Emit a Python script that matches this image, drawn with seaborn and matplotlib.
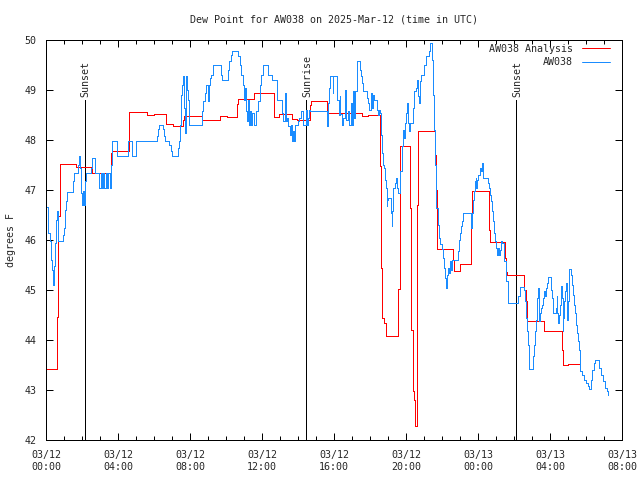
import numpy as np
import pandas as pd
import matplotlib
matplotlib.use("Agg")
import matplotlib.pyplot as plt
import seaborn as sns

# ---------------- data (hours after 2025-03-12 00:00 UTC) ----------------
analysis_hours = [0.0, 0.63, 0.68, 0.75, 1.69, 2.57, 3.59, 3.67, 4.63, 5.63, 6.0, 6.65, 7.04,
                  7.61, 7.67, 8.68, 9.67, 10.07, 10.63, 10.67, 11.57, 12.67, 12.94, 13.68,
                  13.96, 14.67, 14.71, 15.59, 17.54, 17.91, 18.57, 18.63, 18.68, 18.78, 18.87,
                  19.57, 19.67, 20.22, 20.29, 20.37, 20.46, 20.52, 20.59, 20.63, 20.68, 21.63,
                  21.67, 21.71, 21.74, 22.63, 22.68, 23.0, 23.61, 23.68, 24.61, 24.68, 25.52,
                  25.57, 25.63, 26.57, 26.64, 26.71, 27.67, 28.65, 28.71, 29.0, 29.63]
analysis_vals = [43.43, 44.46, 46.48, 47.53, 47.47, 47.35, 47.75, 47.78, 48.56, 48.5, 48.52, 48.33, 48.29,
                 48.4, 48.49, 48.41, 48.49, 48.47, 48.73, 48.83, 48.95, 48.47, 48.53, 48.43,
                 48.41, 48.7, 48.78, 48.55, 48.48, 48.51, 47.48, 45.45, 44.45, 44.35, 44.08,
                 45.03, 47.88, 46.65, 44.2, 42.98, 42.8, 42.29, 43.76, 46.71, 48.19, 47.71,
                 47.01, 46.63, 45.83, 45.61, 45.38, 45.53, 46.25, 46.99, 46.21, 45.97, 45.65,
                 45.36, 45.31, 45.0, 44.78, 44.39, 44.19, 43.8, 43.51, 43.53, 43.53]

obs_hours = [0.04, 0.13, 0.22, 0.28, 0.32, 0.37, 0.41, 0.44, 0.5, 0.56, 0.61, 0.65, 0.67, 0.92, 0.98,
             1.04, 1.08, 1.13, 1.18, 1.52, 1.58, 1.75, 1.81, 1.83, 1.89, 1.94, 2.0, 2.06, 2.11,
             2.17, 2.22, 2.48, 2.54, 2.72, 2.97, 3.03, 3.11, 3.17, 3.22, 3.31, 3.39, 3.47, 3.56,
             3.59, 3.64, 3.96, 4.57, 4.76, 5.0, 6.18, 6.24, 6.29, 6.5, 6.56, 6.61, 6.85, 6.93,
             7.0, 7.32, 7.39, 7.44, 7.5, 7.56, 7.61, 7.67, 7.72, 7.78, 7.83, 7.89, 7.94, 8.65,
             8.72, 8.81, 8.89, 8.98, 9.04, 9.11, 9.19, 9.29, 9.72, 9.79, 10.09, 10.17, 10.25,
             10.33, 10.67, 10.78, 10.86, 10.94, 11.0, 11.06, 11.11, 11.17, 11.22, 11.28, 11.33,
             11.39, 11.47, 11.53, 11.67, 11.79, 11.89, 11.97, 12.07, 12.35, 12.54, 12.82, 12.86,
             13.09, 13.18, 13.28, 13.32, 13.39, 13.47, 13.56, 13.61, 13.67, 13.72, 13.78, 13.83,
             14.02, 14.08, 14.17, 14.29, 14.43, 14.48, 14.56, 14.61, 14.67, 15.59, 15.67, 15.72,
             15.78, 15.92, 15.96, 16.14, 16.19, 16.25, 16.31, 16.36, 16.43, 16.5, 16.61, 16.67,
             16.75, 16.83, 16.92, 17.0, 17.06, 17.11, 17.17, 17.26, 17.44, 17.5, 17.56, 17.63,
             17.82, 17.89, 17.96, 18.03, 18.09, 18.17, 18.24, 18.37, 18.44, 18.52, 18.57, 18.61,
             18.67, 18.72, 18.79, 18.85, 18.89, 18.93, 18.96, 19.02, 19.17, 19.21, 19.24, 19.29,
             19.39, 19.44, 19.5, 19.57, 19.67, 19.76, 19.79, 19.83, 19.89, 19.94, 20.0, 20.06,
             20.11, 20.17, 20.22, 20.39, 20.44, 20.56, 20.61, 20.67, 20.72, 20.76, 20.79, 20.83,
             21.0, 21.11, 21.28, 21.36, 21.47, 21.52, 21.56, 21.59, 21.64, 21.69, 21.78, 21.83,
             21.89, 21.98, 22.07, 22.13, 22.19, 22.24, 22.29, 22.35, 22.41, 22.46, 22.52, 22.57,
             22.91, 22.96, 23.02, 23.07, 23.13, 23.18, 23.59, 23.64, 23.68, 23.72, 23.78, 23.83,
             23.87, 23.91, 23.94, 24.02, 24.11, 24.17, 24.21, 24.28, 24.57, 24.63, 24.67, 24.72,
             24.78, 24.83, 24.89, 24.94, 25.0, 25.06, 25.11, 25.17, 25.22, 25.28, 25.36, 25.42,
             25.47, 25.53, 25.58, 25.64, 25.69, 26.24, 26.31, 26.36, 26.53, 26.61, 26.67, 26.72,
             26.78, 26.82, 26.85, 27.06, 27.11, 27.17, 27.22, 27.26, 27.29, 27.33, 27.37, 27.41,
             27.46, 27.5, 27.56, 27.61, 27.67, 27.72, 27.78, 27.83, 27.89, 28.07, 28.11, 28.17,
             28.33, 28.37, 28.41, 28.44, 28.5, 28.56, 28.59, 28.63, 28.67, 28.71, 28.74, 28.78,
             28.83, 28.89, 28.93, 28.96, 29.0, 29.03, 29.06, 29.18, 29.22, 29.28, 29.33, 29.39,
             29.44, 29.5, 29.56, 29.61, 29.67, 29.78, 29.89, 30.0, 30.11, 30.18, 30.25, 30.33,
             30.42, 30.5, 30.74, 30.83, 30.94, 31.06, 31.17, 31.24]
obs_vals = [46.66, 46.15, 45.98, 45.61, 45.41, 45.21, 45.11, 45.48, 45.95, 46.41, 46.58, 46.45, 45.98, 46.1, 46.25,
            46.5, 46.6, 46.78, 46.97, 47.18, 47.35, 47.5, 47.6, 47.68, 47.45, 46.95, 46.71, 46.98, 46.71,
            47.18, 47.35, 47.45, 47.65, 47.35, 47.05, 47.35, 47.05, 47.35, 47.05, 47.35, 47.05, 47.35, 47.05,
            47.5, 47.99, 47.68, 47.99, 47.68, 47.99, 48.09, 48.23, 48.31, 48.23, 48.09, 47.99, 47.91, 47.78,
            47.68, 47.85, 47.99, 48.31, 48.91, 49.11, 49.28, 48.65, 48.15, 49.28, 49.01, 48.81, 48.31, 48.58,
            48.78, 48.95, 49.11, 48.78, 49.11, 49.25, 49.31, 49.51, 49.31, 49.21, 49.41, 49.58, 49.71,
            49.79, 49.68, 49.51, 49.31, 49.11, 48.81, 49.05, 48.58, 48.38, 48.81, 48.31, 48.58,
            48.31, 48.55, 48.31, 48.58, 48.78, 49.11, 49.31, 49.51, 49.31, 49.21, 49.01, 48.81,
            48.55, 48.38, 48.95, 48.38, 48.45, 48.28, 48.11, 48.31, 47.98, 48.18, 47.98, 48.31,
            48.38, 48.45, 48.58, 48.31, 48.61, 48.31, 48.45, 48.61, 48.59, 48.29, 48.75, 49.05,
            49.28, 48.95, 49.28, 49.05, 48.81, 48.51, 48.88, 48.52, 48.31, 48.45, 49.0, 48.41,
            48.58, 48.31, 48.75, 48.31, 48.98, 48.45, 48.98, 49.58, 49.41, 49.28, 49.15, 48.98,
            48.85, 48.75, 48.61, 48.95, 48.65, 48.91, 48.81, 48.61, 48.51, 48.61, 48.55, 48.11,
            47.75, 47.51, 47.45, 47.21, 47.05, 46.68, 46.81, 46.85, 46.55, 46.28, 46.58, 47.05,
            47.15, 47.25, 47.05, 46.95, 47.38, 47.61, 47.88, 48.21, 48.05, 48.35, 48.55, 48.75,
            48.35, 48.18, 48.35, 48.65, 48.98, 49.05, 49.21, 48.88, 48.75, 48.98, 49.18, 49.31,
            49.51, 49.68, 49.78, 49.95, 49.6, 48.9, 48.2, 47.5, 46.98, 46.65, 46.31, 46.05,
            45.93, 45.83, 45.65, 45.45, 45.25, 45.05, 45.31, 45.45, 45.35, 45.58, 45.41, 45.61,
            45.78, 46.0, 46.15, 46.28, 46.38, 46.55, 46.25, 46.38, 46.55, 46.81, 46.98, 47.18,
            47.25, 47.05, 47.21, 47.31, 47.45, 47.38, 47.55, 47.25, 47.15, 47.05, 46.91, 46.78,
            46.58, 46.38, 46.15, 45.98, 45.85, 45.7, 45.85, 45.7, 45.81, 45.98, 45.95, 45.7,
            45.58, 45.41, 45.18, 44.91, 44.75, 44.88, 45.01, 45.07, 45.01, 44.78, 44.45, 44.18,
            43.91, 43.68, 43.43, 43.68, 43.91, 44.18, 44.41, 44.61, 44.85, 45.05, 44.71, 44.38,
            44.55, 44.65, 44.71, 44.85, 44.98, 44.88, 45.05, 45.15, 45.26, 45.01, 44.85, 44.55,
            44.65, 44.88, 44.55, 44.35, 44.51, 44.71, 44.91, 45.08, 44.85, 44.18, 44.45, 44.78,
            44.98, 45.15, 44.68, 44.41, 44.78, 45.11, 45.43, 45.3, 45.11, 44.91, 44.71, 44.55,
            44.31, 44.15, 43.98, 43.81, 43.38, 43.3, 43.21, 43.15, 43.08, 43.03, 43.21, 43.41,
            43.55, 43.61, 43.45, 43.3, 43.18, 43.05, 42.98, 42.91]

event_hours = [2.18, 14.47, 26.13]
event_labels = ["Sunset", "Sunrise", "Sunset"]

tick_hours = [0, 4, 8, 12, 16, 20, 24, 28, 32]
tick_labels = ["03/12\n00:00", "03/12\n04:00", "03/12\n08:00", "03/12\n12:00", "03/12\n16:00",
               "03/12\n20:00", "03/13\n00:00", "03/13\n04:00", "03/13\n08:00"]
y_ticks = [42, 43, 44, 45, 46, 47, 48, 49, 50]

title = "Dew Point for AW038 on 2025-Mar-12 (time in UTC)"
ylabel = "degrees F"
series_names = ["AW038 Analysis", "AW038"]

# ---------------- plot ----------------
sns.set_theme(style="white")
plt.rcParams["font.family"] = ["DejaVu Sans Mono"]
FS = 7.2
LW = 0.72

fig = plt.figure(figsize=(6.4, 4.8), dpi=100)
ax = fig.add_axes([46 / 640, 40 / 480, 576 / 640, 400 / 480])

df_a = pd.DataFrame({"hour": analysis_hours, "val": analysis_vals})
df_o = pd.DataFrame({"hour": obs_hours, "val": obs_vals})

sns.lineplot(data=df_a, x="hour", y="val", ax=ax, color="#ff0000", lw=LW,
             drawstyle="steps-post", estimator=None, sort=False, legend=False,
             label=series_names[0], antialiased=False)
sns.lineplot(data=df_o, x="hour", y="val", ax=ax, color="#1a8cff", lw=LW,
             drawstyle="steps-post", estimator=None, sort=False, legend=False,
             label=series_names[1], antialiased=False)

ax.vlines(event_hours, 42, 48.8, color="black", lw=LW, antialiased=False, zorder=1)
for h, lab in zip(event_hours, event_labels):
    ax.text(h + 0.03, 48.86, lab, rotation=90, ha="center", va="bottom", fontsize=FS)

ax.set_xlim(0, 32)
ax.set_ylim(42, 50)
ax.set_xticks(tick_hours)
ax.set_xticklabels(tick_labels, fontsize=FS, linespacing=1.25)
ax.set_xticks(np.arange(0, 33, 1), minor=True)
ax.set_yticks(y_ticks)
ax.set_yticklabels([str(v) for v in y_ticks], fontsize=FS)
ax.tick_params(axis="both", which="major", direction="in", length=5, width=LW,
               top=True, right=True, bottom=True, left=True, color="black")
ax.tick_params(axis="x", which="minor", direction="in", length=3, width=LW,
               top=True, bottom=True, color="black")
ax.tick_params(axis="x", which="major", pad=7)
ax.tick_params(axis="y", which="major", pad=7)
ax.set_xlabel("")
ax.set_ylabel("")
for s in ax.spines.values():
    s.set_color("black")
    s.set_linewidth(LW)

fig.text(334 / 640, 1 - 20 / 480, title, ha="center", va="center", fontsize=FS)
fig.text(11 / 640, 0.5, ylabel, rotation=90, ha="center", va="center", fontsize=FS)

leg = ax.legend(loc="upper right", bbox_to_anchor=((610 - 46) / 576, (440 - 44) / 400),
                frameon=False, markerfirst=False, fontsize=FS, handlelength=2.8,
                handletextpad=0.9, labelspacing=0.35, borderaxespad=0, borderpad=0)
try:
    leg._legend_box.get_children()[1].get_children()[0].align = "right"
except Exception:
    pass

fig.savefig("out.png", dpi=100)
